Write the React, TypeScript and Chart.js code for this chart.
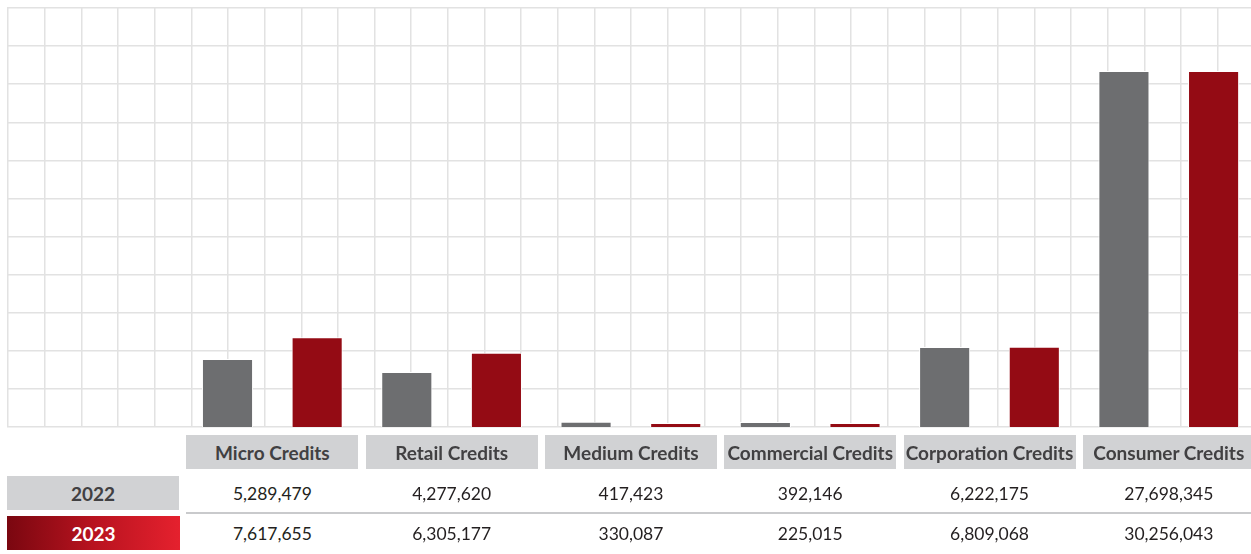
import React, { useEffect, useRef } from 'react';
import { Chart, registerables } from 'chart.js';

Chart.register(...registerables);

// ---- data ----
const categories = [
  'Micro Credits',
  'Retail Credits',
  'Medium Credits',
  'Commercial Credits',
  'Corporation Credits',
  'Consumer Credits',
];
const seriesLabels = ['2022', '2023'];
const values2022 = [5289479, 4277620, 417423, 392146, 6222175, 27698345];
const values2023 = [7617655, 6305177, 330087, 225015, 6809068, 30256043];
// each year is drawn on its own (hidden) value axis, as in the original picture
const axisMax2022 = 32600000;
const axisMax2023 = 35600000;

// ---- layout / style ----
const W = 1251;
const H = 554;
const CANVAS_W = 1262;
const CANVAS_H = 440;
const AREA_LEFT = 3.4;
const AREA_RIGHT = 1258.4;
const AREA_TOP = 8;
const AREA_BOTTOM = 427;
const SLOTS = categories.length + 1; // first slot is the row-label column
const CAT_W = (AREA_RIGHT - AREA_LEFT) / SLOTS;
const GRID_X0 = 8;
const GRID_STEP_X = 37.77;
const GRID_ROWS = 11;

const GRAY = '#6d6e70';
const RED = '#940b14';
const GRID = '#e2e2e2';
const HEADER_BG = '#d1d2d4';
const TEXT_DARK = '#414042';
const FONT = 'Lato, "Open Sans", sans-serif';

const fmt = (v: number) => v.toLocaleString('en-US');

const integerTicks = (axis: any) => {
  const out: { value: number }[] = [];
  for (let v = Math.ceil(axis.min); v <= Math.floor(axis.max); v++) out.push({ value: v });
  axis.ticks = out;
};

export default function App() {
  const ref = useRef<HTMLCanvasElement>(null);

  useEffect(() => {
    const chart = new Chart(ref.current!, {
      type: 'bar',
      data: {
        labels: ['', ...categories],
        datasets: [
          {
            label: seriesLabels[0],
            data: [null, ...values2022],
            backgroundColor: GRAY,
            borderColor: '#ffffff',
            borderWidth: 1,
            xAxisID: 'x',
            yAxisID: 'y',
          },
          {
            label: seriesLabels[1],
            data: [null, ...values2023],
            backgroundColor: RED,
            borderColor: '#ffffff',
            borderWidth: 1,
            xAxisID: 'x',
            yAxisID: 'y2',
          },
        ],
      },
      options: {
        responsive: false,
        animation: false,
        devicePixelRatio: 1,
        layout: {
          padding: {
            left: AREA_LEFT,
            right: CANVAS_W - AREA_RIGHT,
            top: AREA_TOP,
            bottom: CANVAS_H - AREA_BOTTOM,
          },
        },
        plugins: {
          legend: { display: false },
          tooltip: { enabled: false },
        },
        datasets: {
          bar: { categoryPercentage: 1, barPercentage: 0.57, minBarLength: 4 },
        },
        scales: {
          x: { type: 'category', display: false, grid: { display: false } },
          y: { display: false, min: 0, max: axisMax2022 },
          y2: { axis: 'y', display: false, min: 0, max: axisMax2023 },
          gx: {
            axis: 'x',
            type: 'linear',
            position: 'bottom',
            bounds: 'data',
            min: (AREA_LEFT - GRID_X0) / GRID_STEP_X,
            max: (AREA_RIGHT - GRID_X0) / GRID_STEP_X,
            afterBuildTicks: integerTicks,
            ticks: { display: false, stepSize: 1, includeBounds: false },
            grid: { color: GRID, lineWidth: 1.5, drawTicks: false },
            border: { display: false },
          },
          gy: {
            axis: 'y',
            type: 'linear',
            position: 'left',
            bounds: 'data',
            min: 0,
            max: GRID_ROWS,
            afterBuildTicks: integerTicks,
            ticks: { display: false, stepSize: 1 },
            grid: { color: GRID, lineWidth: 1.5, drawTicks: false },
            border: { display: false },
          },
        },
      } as any,
    });
    return () => chart.destroy();
  }, []);

  const colLeft = (i: number) => AREA_LEFT + CAT_W * (i + 1) + 3.7;

  const cellBase: React.CSSProperties = {
    position: 'absolute',
    display: 'flex',
    alignItems: 'center',
    justifyContent: 'center',
    whiteSpace: 'nowrap',
    fontFamily: FONT,
    fontSize: 17.5,
  };

  return (
    <div
      style={{
        position: 'absolute',
        left: 0,
        top: 0,
        width: W,
        height: H,
        overflow: 'hidden',
        background: '#ffffff',
      }}
    >
      <div
        style={{
          position: 'absolute',
          left: 0,
          top: 0,
          width: CANVAS_W,
          height: CANVAS_H,
          clipPath: 'inset(0px 0px 0px 7px)',
        }}
      >
        <canvas ref={ref} width={CANVAS_W} height={CANVAS_H} style={{ width: CANVAS_W, height: CANVAS_H, display: 'block' }} />
      </div>

      {categories.map((c, i) => (
        <div
          key={'h' + i}
          style={{
            ...cellBase,
            left: colLeft(i),
            top: 435,
            width: 172,
            height: 34,
            background: HEADER_BG,
            color: TEXT_DARK,
            fontWeight: 700,
            fontSize: 19,
          }}
        >
          {c}
        </div>
      ))}

      <div
        style={{
          ...cellBase,
          left: 7,
          top: 476,
          width: 172,
          height: 34,
          background: HEADER_BG,
          color: TEXT_DARK,
          fontWeight: 700,
          fontSize: 19,
        }}
      >
        {seriesLabels[0]}
      </div>
      <div
        style={{
          ...cellBase,
          left: 7,
          top: 516,
          width: 173,
          height: 34,
          background: 'linear-gradient(to right, #7a0710 0%, #b8131f 50%, #e5212e 100%)',
          color: '#ffffff',
          fontWeight: 700,
          fontSize: 19,
        }}
      >
        {seriesLabels[1]}
      </div>

      <div
        style={{
          position: 'absolute',
          left: 186,
          top: 512,
          width: W - 186,
          height: 2,
          background: '#c9cacc',
        }}
      />

      {values2022.map((v, i) => (
        <div
          key={'a' + i}
          style={{ ...cellBase, left: colLeft(i), top: 476, width: 172, height: 34, color: '#231f20' }}
        >
          {fmt(v)}
        </div>
      ))}
      {values2023.map((v, i) => (
        <div
          key={'b' + i}
          style={{ ...cellBase, left: colLeft(i), top: 516, width: 172, height: 34, color: '#231f20' }}
        >
          {fmt(v)}
        </div>
      ))}
    </div>
  );
}
